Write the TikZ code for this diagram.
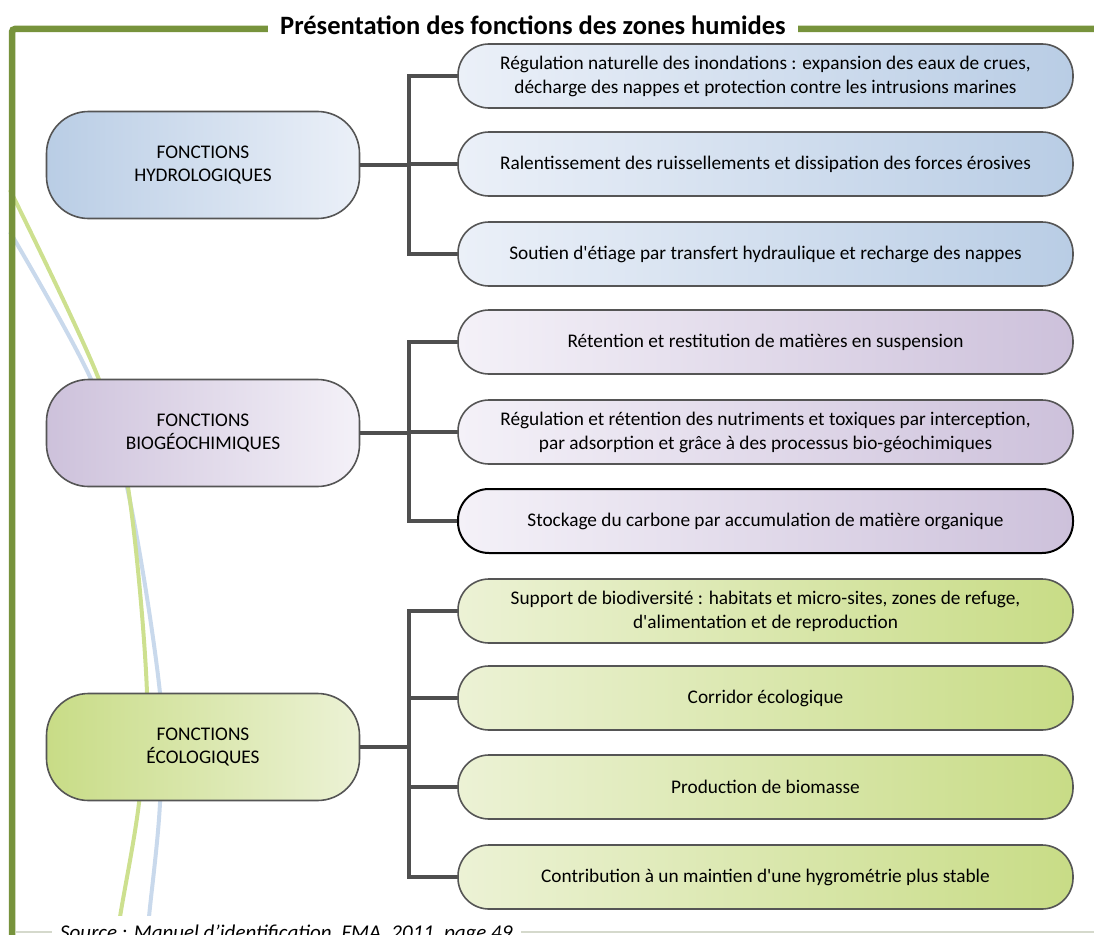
\documentclass[tikz,border=0pt]{standalone}
\usepackage{fontspec}
\setmainfont{Carlito}
\definecolor{frameolive}{HTML}{77933C}
\definecolor{linkgray}{HTML}{4F4F4F}
\definecolor{boxgray}{HTML}{555555}
\definecolor{bluedark}{HTML}{B9CDE5}
\definecolor{bluelight}{HTML}{EBF0F8}
\definecolor{mauvedark}{HTML}{CDC1DB}
\definecolor{mauvelight}{HTML}{F4F1F8}
\definecolor{greendark}{HTML}{C8DC86}
\definecolor{greenlight}{HTML}{ECF2D5}
\definecolor{swirlgreen}{HTML}{CDE08F}
\definecolor{swirlblue}{HTML}{C9D9EC}
\definecolor{footgray}{HTML}{D5D9CC}
\tikzset{
    mainbox/.style={rectangle,rounded corners=42pt,draw=boxgray,line width=1.6pt,
        minimum width=313pt,minimum height=107pt,align=center,
        font=\fontsize{19.3}{23.5}\selectfont},
    subbox/.style={rectangle,rounded corners=31pt,draw=boxgray,line width=1.6pt,
        minimum width=615pt,minimum height=64pt,align=center,
        font=\fontsize{19.3}{24}\selectfont},
    hydromain/.style={mainbox,left color=bluedark,right color=bluelight},
    hydrosub/.style={subbox,left color=bluelight,right color=bluedark},
    biomain/.style={mainbox,left color=mauvedark,right color=mauvelight},
    biosub/.style={subbox,left color=mauvelight,right color=mauvedark},
    ecomain/.style={mainbox,left color=greendark,right color=greenlight},
    ecosub/.style={subbox,left color=greenlight,right color=greendark},
    edge/.style={-,draw=linkgray,line width=3.5pt},
    swirl/.style={line width=4pt,smooth,tension=0.6},
}

\begin{document}
\begin{tikzpicture}[x=1pt,y=-1pt]
\useasboundingbox (0,0) rectangle (1094,934);
% background curves
\draw[swirl,swirlblue] plot coordinates {(10,232) (90,377) (127,487) (160,693) (160,803) (149,917) (147,945)};
\draw[swirl,swirlgreen] plot coordinates {(10,190) (98,377) (128,487) (147,693) (139,803) (120,917) (117,945)};
% frame and title
\draw[frameolive,line width=6.5pt,rounded corners=3pt] (1100,29) -- (12,29) -- (12,945);
\draw[footgray,line width=2pt] (16,932) -- (1100,932);
\node[fill=white,inner xsep=12pt,font=\fontsize{26.5}{30}\bfseries] (title) at (533,25) {Présentation des fonctions des zones humides};
\node[fill=white,anchor=base west,inner sep=8pt,font=\fontsize{21}{25}\itshape] (source) at (52,939) {Source : Manuel d’identification, FMA, 2011, page 49};
% groups
\node[hydromain] (hydro) at (203,165) {FONCTIONS\\HYDROLOGIQUES};
\node[biomain] (biogeo) at (203,433) {FONCTIONS\\BIOGÉOCHIMIQUES};
\node[ecomain] (ecolo) at (203,747) {FONCTIONS\\ÉCOLOGIQUES};
% functions
\node[hydrosub] (h1) at (765.5,76) {Régulation naturelle des inondations : expansion des eaux de crues,\\décharge des nappes et protection contre les intrusions marines};
\node[hydrosub] (h2) at (765.5,164) {Ralentissement des ruissellements et dissipation des forces érosives};
\node[hydrosub] (h3) at (765.5,254) {Soutien d\textquotesingle étiage par transfert hydraulique et recharge des nappes};
\node[biosub] (b1) at (765.5,342) {Rétention et restitution de matières en suspension};
\node[biosub] (b2) at (765.5,432) {Régulation et rétention des nutriments et toxiques par interception,\\par adsorption et grâce à des processus bio-géochimiques};
\node[biosub,draw=black,line width=2pt] (b3) at (765.5,521) {Stockage du carbone par accumulation de matière organique};
\node[ecosub] (e1) at (765.5,611) {Support de biodiversité : habitats et micro-sites, zones de refuge,\\d\textquotesingle alimentation et de reproduction};
\node[ecosub] (e2) at (765.5,698) {Corridor écologique};
\node[ecosub] (e3) at (765.5,787) {Production de biomasse};
\node[ecosub] (e4) at (765.5,877) {Contribution à un maintien d\textquotesingle une hygrométrie plus stable};
% links
\coordinate (jh) at (409,165);
\coordinate (jb) at (409,433);
\coordinate (je) at (409,747);
\draw[edge] (hydro) -- (jh);
\draw[edge] (jh) |- (h1);
\draw[edge] (jh) |- (h2);
\draw[edge] (jh) |- (h3);
\draw[edge] (biogeo) -- (jb);
\draw[edge] (jb) |- (b1);
\draw[edge] (jb) |- (b2);
\draw[edge] (jb) |- (b3);
\draw[edge] (ecolo) -- (je);
\draw[edge] (je) |- (e1);
\draw[edge] (je) |- (e2);
\draw[edge] (je) |- (e3);
\draw[edge] (je) |- (e4);
\end{tikzpicture}
\end{document}
